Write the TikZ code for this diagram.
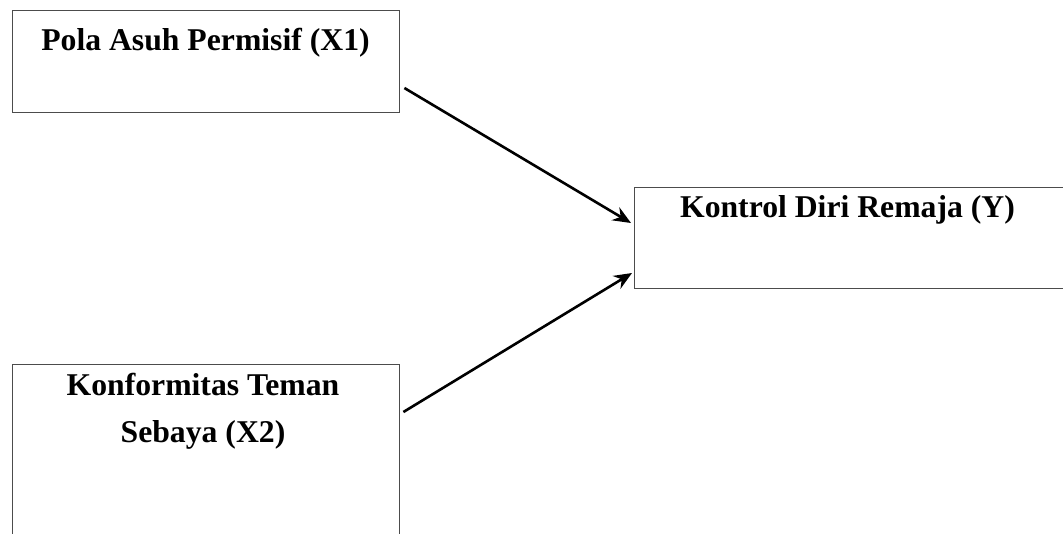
\documentclass[tikz,border=0pt]{standalone}
\usepackage{fontspec}
\setmainfont{Liberation Serif}
\usetikzlibrary{arrows.meta}
\begin{document}
\begin{tikzpicture}[x=1pt,y=-1pt,
  box/.style={draw=black!70, line width=1.4pt, rectangle, anchor=north west, inner sep=0pt},
  lbl/.style={anchor=base, inner sep=0pt, font=\fontsize{31.7}{38}\selectfont\bfseries},
  arr/.style={line width=2.6pt, -{Stealth[length=18pt,width=15pt,inset=6pt]}}]
\useasboundingbox (0,0) rectangle (1063,533);
\clip (0,0) rectangle (1063,533);
\fill[white] (0,0) rectangle (1063,533);
\node[box, minimum width=387pt, minimum height=102pt] (b1) at (12,10) {};
\node[box, minimum width=432pt, minimum height=101pt] (y) at (634,187) {};
\node[box, minimum width=387pt, minimum height=240pt] (b3) at (12,364) {};
\node[lbl] (t1) at (205.5,50) {Pola Asuh Permisif (X1)};
\node[lbl] (ty) at (847.5,217) {Kontrol Diri Remaja (Y)};
\node[lbl] (t3a) at (203,395) {Konformitas Teman};
\node[lbl] (t3b) at (203,442) {Sebaya (X2)};
\draw[arr] ([xshift=4pt,yshift=-78pt]b1.north east) -- ([xshift=-3pt,yshift=-36pt]y.north west);
\draw[arr] ([xshift=3pt,yshift=-48pt]b3.north east) -- ([xshift=-2pt,yshift=-86pt]y.north west);
\end{tikzpicture}
\end{document}
